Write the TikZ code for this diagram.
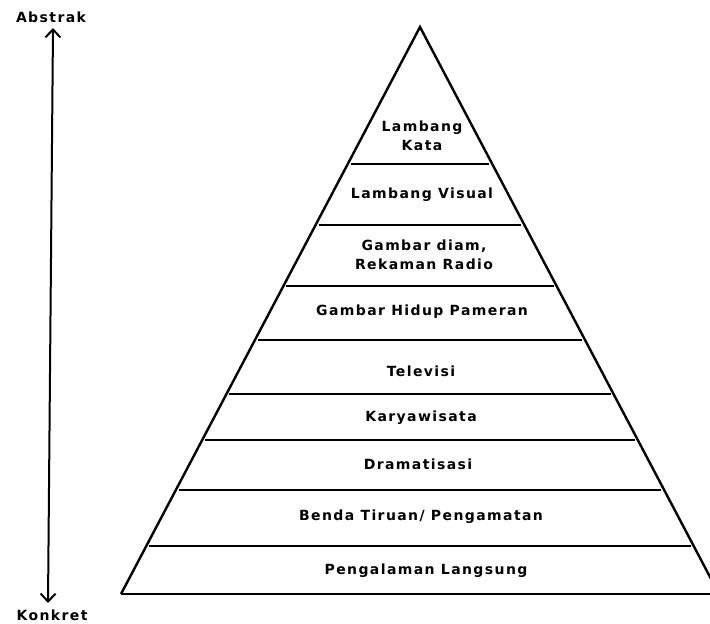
\documentclass[tikz,border=0pt]{standalone}
\usepackage{fontspec}
\setmainfont{DejaVu Sans}
\newfontfamily\lblfont[LetterSpace=10]{DejaVu Sans Bold}
\usetikzlibrary{calc,arrows.meta}
\tikzset{
  lbl/.style={font=\lblfont\fontsize{14}{19}\selectfont, align=center, inner sep=0pt},
  side/.style={line width=2.4pt, line join=miter},
  level/.style={line width=1.6pt},
  baseline/.style={line width=2.8pt},
  axis/.style={line width=2pt, {Straight Barb[length=8pt,width=15pt,line width=2pt]}-{Straight Barb[length=8pt,width=15pt,line width=2pt]}}
}
\begin{document}
\begin{tikzpicture}[x=1pt,y=-1pt]
\useasboundingbox (0,0) rectangle (710,624);
\clip (0,0) rectangle (710,624);
% triangle
\coordinate (apex) at (420,27);
\coordinate (L) at (121,594);
\coordinate (R) at (719,594);
\draw[side] (L) -- (apex) -- (R);
\draw[baseline] (L) -- (R);
% level lines
\foreach \t [count=\i] in {0.2416,0.3492,0.4568,0.5520,0.6473,0.7284,0.8166,0.9153}{
  \coordinate (l\i) at ($(apex)!\t!(L)$);
  \coordinate (r\i) at ($(apex)!\t!(R)$);
  \draw[level] ($(l\i)+(3,0)$) -- ($(r\i)+(-3,0)$);
}
% labels
\node[lbl] (kata) at (422,136) {Lambang\\Kata};
\node[lbl] (visual) at (422,195) {Lambang Visual};
\node[lbl] (diam) at (424,255) {Gambar diam,\\Rekaman Radio};
\node[lbl] (hidup) at (422,312) {Gambar Hidup Pameran};
\node[lbl] (tv) at (421,371) {Televisi};
\node[lbl] (karya) at (421,418) {Karyawisata};
\node[lbl] (drama) at (418,464) {Dramatisasi};
\node[lbl] (benda) at (421,517) {Benda Tiruan/ Pengamatan};
\node[lbl] (langsung) at (426,571) {Pengalaman Langsung};
% axis
\node[lbl] (abstrak) at (51,17) {Abstrak};
\node[lbl] (konkret) at (52,615) {Konkret};
\coordinate (atop) at (53,28);
\coordinate (abot) at (48,603);
\draw[axis] (abot) -- (atop);
\end{tikzpicture}
\end{document}
